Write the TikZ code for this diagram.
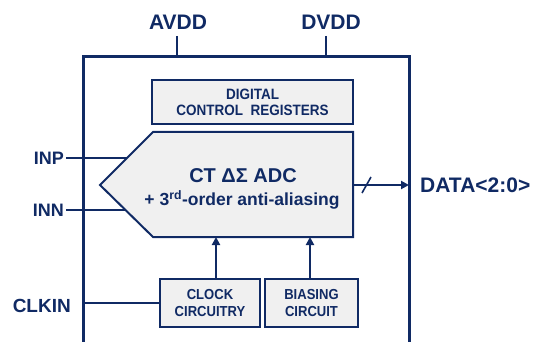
\documentclass[tikz,border=0pt]{standalone}
\usepackage{fontspec}
\setmainfont{Liberation Sans}
\newfontfamily\blockfont{Liberation Sans}[FakeStretch=0.9]
\usetikzlibrary{arrows.meta}
\definecolor{navy}{RGB}{16,42,100}
\definecolor{blockfill}{RGB}{240,240,240}

\begin{document}
\begin{tikzpicture}[x=1pt,y=-1pt,
  wire/.style={draw=navy,line width=2pt},
  frame/.style={draw=navy,line width=3pt},
  block/.style={draw=navy,fill=blockfill,line width=2pt,inner sep=0pt},
  pinlabel/.style={text=navy,font=\fontsize{19}{22}\selectfont\bfseries,inner sep=2pt},
  blocktext/.style={text=navy,font=\blockfont\fontsize{14.5}{17}\selectfont\bfseries,align=center},
  tip/.style={-{Triangle[length=8pt,width=8pt]}}
]
\useasboundingbox (0,0) rectangle (541,342);

% chip outline, open towards the bottom
\coordinate (frameBL) at (83,342);
\coordinate (frameTL) at (83,57);
\coordinate (frameTR) at (409,57);
\coordinate (frameBR) at (409,342);
\draw[frame] (frameBL) -- (frameTL) -- (frameTR) -- (frameBR);

% supply pins
\node[pinlabel,font=\fontsize{21}{24}\selectfont\bfseries] (avdd) at (178,22) {AVDD};
\node[pinlabel,font=\fontsize{21}{24}\selectfont\bfseries] (dvdd) at (331,22) {DVDD};
\coordinate (avddIn) at (177,57);
\coordinate (dvddIn) at (326,57);
\draw[wire] (avddIn |- 0,36) -- (avddIn);
\draw[wire] (dvddIn |- 0,36) -- (dvddIn);

% register bank
\node[block,minimum width=201,minimum height=44] (regs) at (252.5,102) {};
\node[blocktext,font=\blockfont\fontsize{15}{16}\selectfont\bfseries] (regsText) at (regs.center) {DIGITAL\\CONTROL\ \ REGISTERS};

% modulator block
\coordinate (adcTip) at (100,185);
\coordinate (adcNW) at (153,132);
\coordinate (adcNE) at (353,132);
\coordinate (adcSE) at (353,237);
\coordinate (adcSW) at (153,237);
\draw[block] (adcTip) -- (adcNW) -- (adcNE) -- (adcSE) -- (adcSW) -- cycle;
\node[text=navy,font=\fontsize{20}{24}\selectfont\bfseries] (adcTitle) at (243,176) {CT ΔΣ ADC};
\node[text=navy,font=\fontsize{17.5}{20}\selectfont\bfseries] (adcSub) at (242,200)
  {+ 3\textsuperscript{rd}-order anti-aliasing};

% support blocks
\node[block,minimum width=100,minimum height=48] (clock) at (210,303) {};
\node[blocktext] (clockText) at (clock.center) {CLOCK\\CIRCUITRY};
\node[block,minimum width=93,minimum height=48] (bias) at (311.5,303) {};
\node[blocktext] (biasText) at (bias.center) {BIASING\\CIRCUIT};

\coordinate (clockOut) at (216,279);
\coordinate (biasOut) at (310,279);
\draw[wire,tip] (clockOut) -- (clockOut |- adcSW);
\draw[wire,tip] (biasOut) -- (biasOut |- adcSW);

% analog inputs
\node[pinlabel,anchor=east,font=\fontsize{18}{22}\selectfont\bfseries] (inp) at (66,158) {INP};
\node[pinlabel,anchor=east,font=\fontsize{18}{22}\selectfont\bfseries] (inn) at (66,210) {INN};
\coordinate (inpEnd) at (127,158);
\coordinate (innEnd) at (125.5,210);
\draw[wire] (inp.east) -- (inpEnd);
\draw[wire] (inn.east) -- (innEnd);

% clock input
\node[pinlabel,anchor=east] (clkin) at (73,306) {CLKIN};
\draw[wire] (frameTL |- clock.west) -- (clock.west);

% data output bus
\node[pinlabel,anchor=west,font=\fontsize{21}{24}\selectfont\bfseries,inner sep=0pt] (data) at (420,185) {DATA<2:0>};
\coordinate (dataOut) at (353,185);
\draw[wire,tip] (dataOut) -- (frameTR |- dataOut);
\coordinate (busA) at (362,193);
\coordinate (busB) at (371,177);
\draw[navy,line width=1.6pt] (busA) -- (busB);
\end{tikzpicture}
\end{document}
